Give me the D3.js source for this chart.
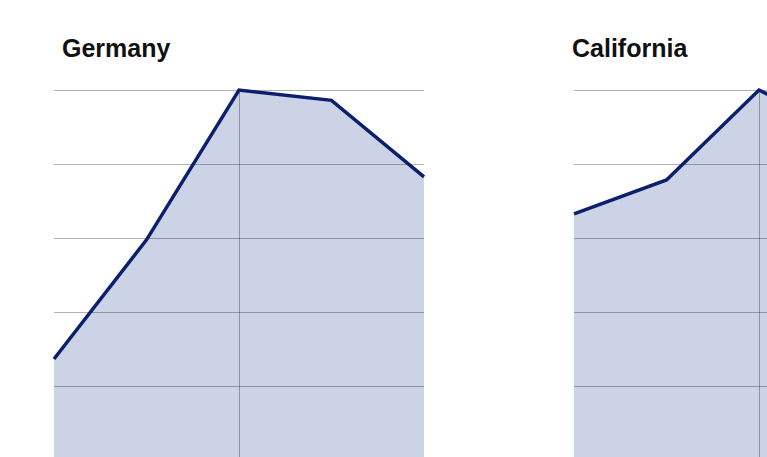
<!DOCTYPE html>
<html>
<head>
<meta charset="utf-8">
<script src="https://cdn.jsdelivr.net/npm/d3@7"></script>
<style>
  html, body { margin: 0; padding: 0; background: #fff; }
  svg { display: block; }
</style>
</head>
<body>
<svg id="chart" width="767" height="457"></svg>
<script>
// ---- data ----
const years = [2000, 2005, 2010, 2015, 2020];
const regions = ["Germany", "California"];
const germanyValues = [27.3, 59.5, 100, 97.2, 76.5];
const californiaValues = [66.5, 75.7, 100, 87.6, 80];
const yTicks = [0, 20, 40, 60, 80, 100];
const xTicks = [2010];

const seriesByRegion = {
  Germany: germanyValues,
  California: californiaValues
};

// ---- layout ----
const W = 767, H = 457;
const panelLeft = [54, 574];
const panelWidth = 370;
const titleX = [62, 572];
const plotTop = 90, plotBottom = 460;

const svg = d3.select("#chart");

const y = d3.scaleLinear().domain([0, 100]).range([plotBottom, plotTop]);

regions.forEach((name, i) => {
  const vals = seriesByRegion[name];
  const data = years.map((yr, j) => ({ year: yr, value: vals[j] }));
  const x = d3.scaleLinear()
    .domain(d3.extent(years))
    .range([panelLeft[i], panelLeft[i] + panelWidth]);

  const g = svg.append("g");

  // area
  g.append("path")
    .datum(data)
    .attr("fill", "#cdd3e6")
    .attr("d", d3.area()
      .x(d => x(d.year))
      .y0(plotBottom)
      .y1(d => y(d.value)));

  // horizontal grid
  g.append("g")
    .selectAll("line")
    .data(yTicks)
    .join("line")
    .attr("x1", x.range()[0])
    .attr("x2", x.range()[1])
    .attr("y1", d => Math.round(y(d)) + 0.5)
    .attr("y2", d => Math.round(y(d)) + 0.5)
    .attr("stroke", "rgba(0,0,0,0.3)")
    .attr("stroke-width", 1);

  // vertical grid
  g.append("g")
    .selectAll("line")
    .data(xTicks)
    .join("line")
    .attr("x1", d => Math.round(x(d)) + 0.5)
    .attr("x2", d => Math.round(x(d)) + 0.5)
    .attr("y1", plotTop)
    .attr("y2", plotBottom)
    .attr("stroke", "rgba(0,0,0,0.3)")
    .attr("stroke-width", 1);

  // line
  g.append("path")
    .datum(data)
    .attr("fill", "none")
    .attr("stroke", "#0b1f6e")
    .attr("stroke-width", 3.5)
    .attr("stroke-linejoin", "miter")
    .attr("d", d3.line()
      .x(d => x(d.year))
      .y(d => y(d.value)));

  // title
  g.append("text")
    .attr("x", titleX[i])
    .attr("y", 57)
    .attr("font-family", "Liberation Sans, Arial, sans-serif")
    .attr("font-weight", "bold")
    .attr("font-size", 25)
    .attr("fill", "#111")
    .text(name);
});
</script>
</body>
</html>
